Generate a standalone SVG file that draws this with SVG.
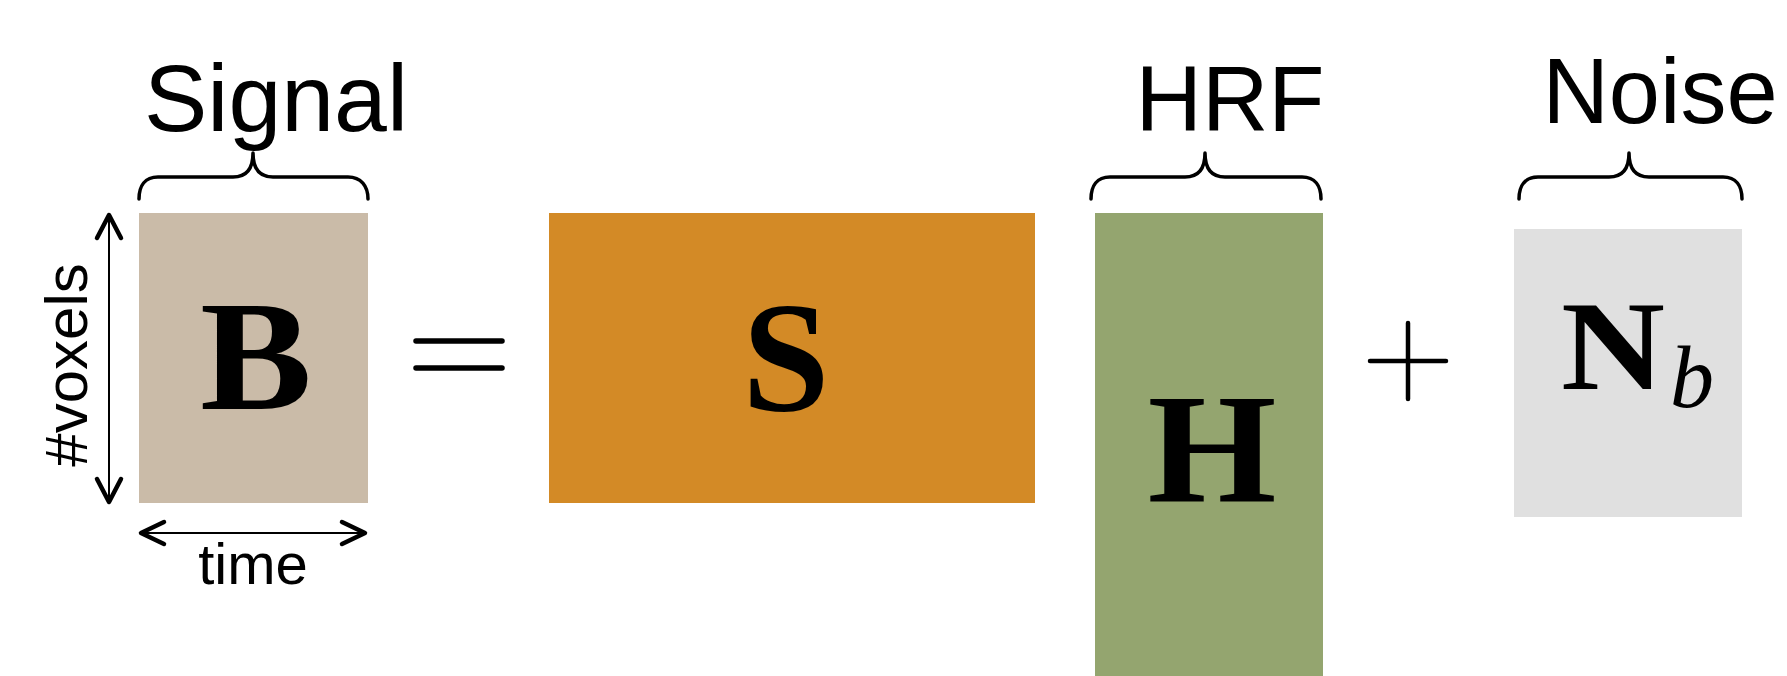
<svg xmlns="http://www.w3.org/2000/svg" width="1787" height="676" viewBox="0 0 1787 676">
<style>
.lbl{font-family:"Liberation Sans",Arial,sans-serif;fill:#000}
.math{font-family:"Liberation Serif","Times New Roman",serif;font-weight:bold;fill:#000}
.brace{fill:none;stroke:#000;stroke-width:3.5;stroke-linecap:round;stroke-linejoin:round}
.shaft{fill:none;stroke:#000;stroke-width:2}
.head{fill:none;stroke:#000;stroke-width:4.5;stroke-linecap:round;stroke-linejoin:round}
.op{fill:none;stroke:#000;stroke-width:5.5;stroke-linecap:round}
</style>
<rect width="1787" height="676" fill="#fff"/>
<g id="signal-label">
<text class="lbl" x="276" y="131" font-size="95" text-anchor="middle">Signal</text>
<path class="brace" d="M139,199 C139,186 145,177 158,177 L233,177 C245,177 253,170 253,153 C253,170 261,177 273,177 L348,177 C361,177 368,186 368,199"/>
</g>
<g id="node-B">
<rect x="139" y="213" width="229" height="290" fill="#CABBA8"/>
<text class="math" x="256" y="409" font-size="157" text-anchor="middle" textLength="112" lengthAdjust="spacingAndGlyphs">B</text>
</g>
<g id="dims">
<text class="lbl" font-size="60" text-anchor="middle" transform="translate(87,365) rotate(-90)">#voxels</text>
<text class="lbl" x="253" y="584" font-size="58" text-anchor="middle">time</text>
</g>
<g id="connectors">
<line class="shaft" x1="109" y1="216" x2="109" y2="501"/>
<polyline class="head" points="97,238 109,215 121,238"/>
<polyline class="head" points="97,479 109,502 121,479"/>
<line class="shaft" x1="142" y1="533" x2="364" y2="533"/>
<polyline class="head" points="164,522 141,533 164,544"/>
<polyline class="head" points="342,522 365,533 342,544"/>
</g>
<g id="equals">
<line class="op" x1="416" y1="341" x2="502" y2="341"/>
<line class="op" x1="416" y1="368" x2="502" y2="368"/>
</g>
<g id="node-S">
<rect x="549" y="213" width="486" height="290" fill="#D38A26"/>
<text class="math" x="786" y="410" font-size="157" text-anchor="middle">S</text>
</g>
<g id="hrf-label">
<text class="lbl" x="1230" y="131" font-size="92" text-anchor="middle">HRF</text>
<path class="brace" d="M1091,199 C1091,186 1097,177 1110,177 L1185,177 C1197,177 1205,170 1205,153 C1205,170 1213,177 1225,177 L1302,177 C1315,177 1321,186 1321,199"/>
</g>
<g id="node-H">
<rect x="1095" y="213" width="228" height="463" fill="#94A56F"/>
<text class="math" x="1212" y="502" font-size="157" text-anchor="middle" textLength="129" lengthAdjust="spacingAndGlyphs">H</text>
</g>
<g id="plus">
<line class="op" x1="1370" y1="361" x2="1446" y2="361" style="stroke-width:4.5"/>
<line class="op" x1="1408" y1="323" x2="1408" y2="399" style="stroke-width:4.5"/>
</g>
<g id="noise-label">
<text class="lbl" x="1660" y="123" font-size="92" text-anchor="middle">Noise</text>
<path class="brace" d="M1519,199 C1519,186 1525,177 1538,177 L1609,177 C1621,177 1629,170 1629,153 C1629,170 1637,177 1649,177 L1723,177 C1736,177 1742,186 1742,199"/>
</g>
<g id="node-N">
<rect x="1514" y="229" width="228" height="288" fill="#E0E0E0"/>
<text class="math" x="1561" y="389" font-size="128" textLength="104" lengthAdjust="spacingAndGlyphs">N</text>
<text x="1670" y="407" font-size="88" font-family="Liberation Serif,'Times New Roman',serif" font-style="italic">b</text>
</g>
</svg>
